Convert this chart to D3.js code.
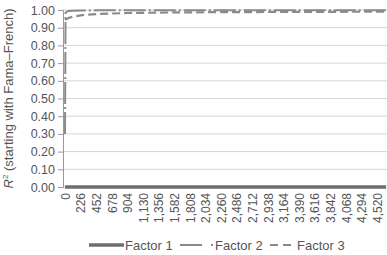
<!DOCTYPE html>
<html>
<head>
<meta charset="utf-8">
<script src="https://cdn.jsdelivr.net/npm/d3@7"></script>
<style>
  body { margin: 0; background: #fff; }
  svg { display: block; font-family: "Liberation Sans", Arial, sans-serif; }
</style>
</head>
<body>
<div id="chart"></div>
<script>
const xs      = [0, 8, 30, 60, 120, 250, 500, 900, 1500, 2300, 3200, 4100, 4650];
const factor1 = [0, 0, 0, 0, 0, 0, 0, 0, 0, 0, 0, 0, 0];
const factor2 = [0.30, 0.985, 0.992, 0.995, 0.996, 0.997, 0.998, 0.998, 0.998, 0.998, 0.998, 0.998, 0.998];
const factor3 = [0.944, 0.946, 0.950, 0.956, 0.963, 0.971, 0.978, 0.983, 0.986, 0.988, 0.989, 0.990, 0.990];
const xTicks  = d3.range(0, 4521, 226);
const yTicks  = [0, 0.1, 0.2, 0.3, 0.4, 0.5, 0.6, 0.7, 0.8, 0.9, 1.0];

const width = 387, height = 255;
const plot = { left: 63, right: 387, top: 10, bottom: 187 };

const svg = d3.select("#chart").append("svg")
    .attr("width", width)
    .attr("height", height);

const x = d3.scaleLinear().domain([0, 4650]).range([65, 386]);
const y = d3.scaleLinear().domain([0, 1]).range([plot.bottom, plot.top]);

// gridlines
svg.append("g")
  .selectAll("line")
  .data(yTicks)
  .join("line")
    .attr("x1", plot.left).attr("x2", plot.right)
    .attr("y1", d => y(d)).attr("y2", d => y(d))
    .attr("stroke", "#d6d6d6")
    .attr("stroke-width", 1);

// y axis
const yAxis = svg.append("g")
    .attr("transform", `translate(${plot.left},0)`)
    .call(d3.axisLeft(y).tickValues(yTicks).tickFormat(d3.format(".2f")).tickSize(5).tickPadding(3));
yAxis.select(".domain").attr("stroke", "#999");
yAxis.selectAll(".tick line").attr("stroke", "#999");
yAxis.selectAll("text")
    .attr("fill", "#555")
    .style("font-size", "12.5px");

// x axis
const xAxis = svg.append("g")
    .attr("transform", `translate(0,${plot.bottom})`)
    .call(d3.axisBottom(x).tickValues(xTicks).tickFormat(d3.format(",")).tickSize(0).tickPadding(0));
xAxis.select(".domain").remove();
xAxis.selectAll("text")
    .attr("fill", "#555")
    .style("font-size", "12px")
    .attr("text-anchor", "end")
    .attr("transform", "rotate(-90)")
    .attr("x", -6)
    .attr("y", 0)
    .attr("dy", "0.35em");

// series
const series = [
  { name: "Factor 1", values: factor1, color: "#6e6e6e", width: 3.5, dash: null },
  { name: "Factor 2", values: factor2, color: "#8a8a8a", width: 2, dash: "22,3,2,3" },
  { name: "Factor 3", values: factor3, color: "#8a8a8a", width: 2.2, dash: "8,4" }
];

const line = d3.line()
    .x((d, i) => x(xs[i]))
    .y(d => y(d));

svg.append("g")
  .selectAll("path")
  .data(series)
  .join("path")
    .attr("d", d => line(d.values))
    .attr("fill", "none")
    .attr("stroke", d => d.color)
    .attr("stroke-width", d => d.width)
    .attr("stroke-dasharray", d => d.dash);

// y title
svg.append("text")
    .attr("transform", `translate(13,${(plot.top + plot.bottom) / 2}) rotate(-90)`)
    .attr("text-anchor", "middle")
    .attr("fill", "#555")
    .style("font-size", "13px")
    .call(t => {
      t.append("tspan").attr("font-style", "italic").text("R");
      t.append("tspan").attr("dy", -5).style("font-size", "8px").text("2");
      t.append("tspan").attr("dy", 5).text(" (starting with Fama–French)");
    });

// legend
const legendItems = [
  { s: series[0], x1: 89, x2: 124, tx: 125, dash: null },
  { s: series[1], x1: 180, x2: 214, tx: 215, dash: "22,9,2,100" },
  { s: series[2], x1: 270, x2: 292, tx: 297, dash: "8,5" }
];
const ly = 245;
const legend = svg.append("g");
legend.selectAll("line")
  .data(legendItems)
  .join("line")
    .attr("x1", d => d.x1).attr("x2", d => d.x2)
    .attr("y1", ly).attr("y2", ly)
    .attr("stroke", d => d.s.color)
    .attr("stroke-width", d => d.s.width)
    .attr("stroke-dasharray", d => d.dash);
legend.selectAll("text")
  .data(legendItems)
  .join("text")
    .attr("x", d => d.tx)
    .attr("y", ly)
    .attr("dy", "0.35em")
    .attr("fill", "#555")
    .style("font-size", "13px")
    .text(d => d.s.name);
</script>
</body>
</html>
